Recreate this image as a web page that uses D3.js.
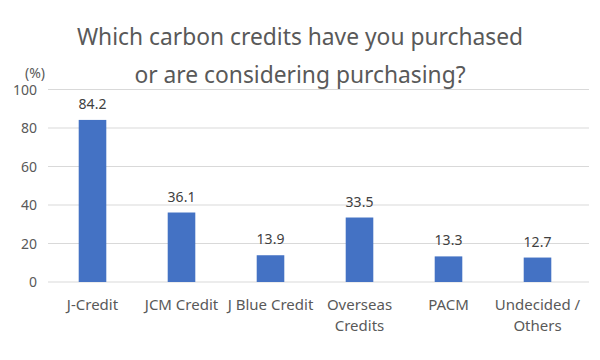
<!DOCTYPE html>
<html><head><meta charset="utf-8">
<script src="https://cdn.jsdelivr.net/npm/d3@7"></script>
<style>body{margin:0;background:#fff;} text{font-family:"Noto Sans",sans-serif;}</style>
</head><body><svg id="c" width="600" height="360"></svg>
<script>
const categories = [["J-Credit"],["JCM Credit"],["J Blue Credit"],["Overseas","Credits"],["PACM"],["Undecided /","Others"]];
const values = [84.2, 36.1, 13.9, 33.5, 13.3, 12.7];
const yTicks = [0, 20, 40, 60, 80, 100];
const titleLines = ["Which carbon credits have you purchased", "or are considering purchasing?"];

const svg = d3.select("#c");
const x = d3.scaleBand().domain(d3.range(categories.length)).range([48, 582]).paddingInner(0.69).paddingOuter(0.345);
const y = d3.scaleLinear().domain([0, 100]).range([282, 89.5]);

svg.append("g").selectAll("line").data(yTicks).join("line")
  .attr("x1", 48).attr("x2", 589).attr("y1", d => y(d)).attr("y2", d => y(d))
  .attr("stroke", "#d9d9d9").attr("stroke-width", 1);

svg.append("g").selectAll("text").data(yTicks).join("text")
  .attr("x", 37).attr("y", d => y(d) + 5).attr("text-anchor", "end")
  .attr("font-size", 14).attr("fill", "#595959").text(d => d);

svg.append("text").attr("x", 35).attr("y", 78).attr("text-anchor", "middle")
  .attr("font-size", 14).attr("fill", "#595959").text("(%)");

svg.append("g").selectAll("rect").data(values).join("rect")
  .attr("x", (d, i) => x(i)).attr("width", x.bandwidth())
  .attr("y", d => y(d)).attr("height", d => y(0) - y(d)).attr("fill", "#4472C4");

svg.append("g").selectAll("text").data(values).join("text")
  .attr("x", (d, i) => x(i) + x.bandwidth() / 2).attr("y", d => y(d) - 11)
  .attr("text-anchor", "middle").attr("font-size", 14).attr("fill", "#404040").text(d => d.toFixed(1));

const cat = svg.append("g").selectAll("text").data(categories).join("text")
  .attr("text-anchor", "middle").attr("font-size", 15).attr("fill", "#595959");
cat.each(function(d, i) {
  d3.select(this).selectAll("tspan").data(d).join("tspan")
    .attr("x", x(i) + x.bandwidth() / 2).attr("y", (t, j) => 310 + j * 21).text(t => t);
});

svg.append("g").selectAll("text").data(titleLines).join("text")
  .attr("x", 300).attr("y", (d, i) => 45 + i * 38).attr("text-anchor", "middle")
  .attr("font-size", 22.8).attr("fill", "#595959").text(d => d);
</script></body></html>
